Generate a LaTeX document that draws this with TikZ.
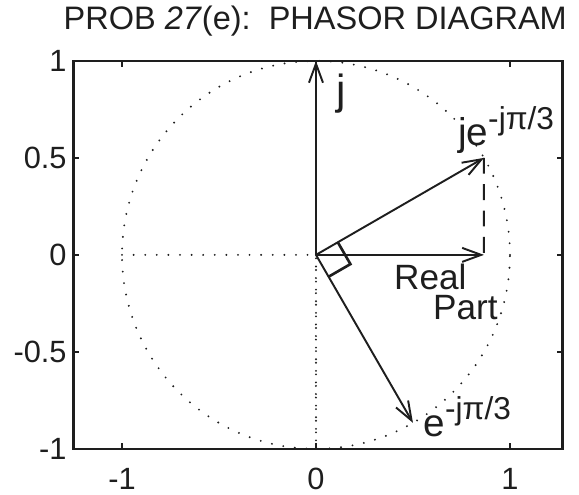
\documentclass[tikz,border=0pt]{standalone}
\usepackage{fontspec}
\setmainfont{Liberation Sans}
\definecolor{PlotInk}{HTML}{1E1E1E}
\usetikzlibrary{arrows.meta,positioning}
\tikzset{
  frame/.style={draw=PlotInk, line width=1.4pt},
  tickmark/.style={draw=PlotInk, line width=1pt},
  phasor/.style={-{Straight Barb[length=3.8mm,width=2.8mm]}, line width=1.1pt, PlotInk},
  guide/.style={draw=PlotInk, line width=1.2pt, line cap=round, dash pattern=on 0pt off 6.6pt},
  denseguide/.style={draw=PlotInk, line width=1.2pt, line cap=round, dash pattern=on 0pt off 2pt on 0pt off 4.6pt},
  projection/.style={draw=PlotInk, line width=1.1pt, dash pattern=on 9pt off 6pt},
  ticklabel/.style={font=\fontsize{17.5}{19}\selectfont, text=PlotInk, inner sep=0pt},
  titletext/.style={font=\fontsize{18.5}{21}\selectfont, text=PlotInk, inner sep=0pt},
  handlabel/.style={font=\fontsize{22}{17}\selectfont, text=PlotInk, inner sep=0pt, align=center}
}
\newcommand{\hsup}[1]{\raisebox{0.8ex}{\fontsize{18}{19}\selectfont #1}}

\begin{document}
\begin{tikzpicture}[x=3.88cm, y=3.88cm]
  \useasboundingbox (-1.629,-1.237) rectangle (1.356,1.314);

  \coordinate (O) at (0,0);
  \coordinate (J) at (0,1);
  \coordinate (A) at (30:1);
  \coordinate (B) at (-60:1);
  \coordinate (R) at (0.866,0);
  \coordinate (W) at (-1,0);
  \coordinate (S) at (0,-1);

  % axes box and ticks
  \draw[frame] (-1.25,-1) rectangle (1.27,1);
  \foreach \x [count=\i] in {-1,0,1} {
    \draw[tickmark] (\x,-1) -- (\x,-0.97);
    \draw[tickmark] (\x,1) -- (\x,0.97);
    \node[ticklabel, anchor=north] (xl\i) at (\x,-1.098) {\x};
  }
  \foreach \y [count=\i] in {-1,-0.5,0,0.5,1} {
    \draw[tickmark] (-1.25,\y) -- (-1.22,\y);
    \draw[tickmark] (1.27,\y) -- (1.24,\y);
    \node[ticklabel, anchor=east] (yl\i) at (-1.284,\y) {\y};
  }
  \node[titletext, anchor=base east] (title) at (1.295,1.16) {PROB \textit{27}(e):\ \ PHASOR DIAGRAM};

  % unit circle and guides
  \draw[guide] (O) circle (1);
  \draw[guide] (W) -- (O);
  \draw[denseguide] (O) -- (S);

  % phasors
  \draw[phasor] (O) -- (J);
  \draw[phasor] (O) -- (A);
  \draw[phasor] (O) -- (B);
  \draw[phasor] (O) -- (R);
  \draw[projection] (A) -- (R);
  \draw[PlotInk, line width=1.5pt] (30:0.13) -- ++(-60:0.13) -- (-60:0.13);

  \node[handlabel, font=\fontsize{24}{24}\selectfont] (jlab) at (0.13,0.83) {j};
  \node[handlabel] (alab) at (0.98,0.645) {je\hsup{-jπ/3}};
  \node[handlabel, font=\fontsize{20}{17}\selectfont] (rlab) at (0.68,-0.19) {Real\hspace*{1em}\\\hspace*{1em}Part};
  \node[handlabel] (blab) at (0.78,-0.835) {e\hsup{-jπ/3}};
\end{tikzpicture}
\end{document}
